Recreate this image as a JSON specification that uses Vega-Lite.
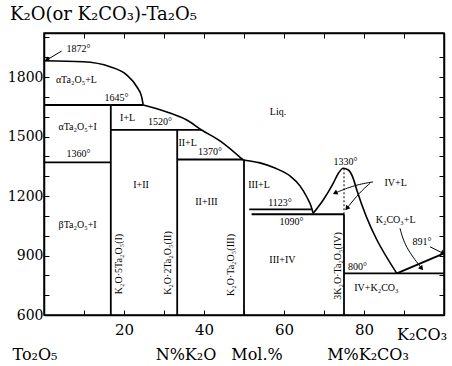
{
  "$schema": "https://vega.github.io/schema/vega-lite/v6.json",
  "width": 400,
  "height": 282,
  "autosize": {"type": "none"},
  "padding": {"left": 44, "top": 33, "right": 8, "bottom": 51},
  "background": "white",
  "config": {
    "view": {"stroke": "black", "strokeWidth": 1.5},
    "font": "DejaVu Serif",
    "axis": {"grid": false, "domainColor": "black", "domainWidth": 1.5, "tickColor": "black", "tickWidth": 1, "labelColor": "black", "labelFont": "DejaVu Serif", "title": null}
  },
  "datasets": {
    "segs": [
      {"x": 0, "y": 1659, "x2": 24.8, "y2": 1659},
      {"x": 16.7, "y": 1659, "x2": 16.7, "y2": 600},
      {"x": 0, "y": 1370, "x2": 16.7, "y2": 1370},
      {"x": 16.7, "y": 1533, "x2": 39.4, "y2": 1533},
      {"x": 33.3, "y": 1533, "x2": 33.3, "y2": 600},
      {"x": 33.3, "y": 1384, "x2": 49.8, "y2": 1384},
      {"x": 50, "y": 1384, "x2": 50, "y2": 600},
      {"x": 51.3, "y": 1133, "x2": 66.9, "y2": 1133},
      {"x": 51.9, "y": 1108, "x2": 75, "y2": 1108},
      {"x": 75, "y": 1108, "x2": 75, "y2": 600},
      {"x": 75, "y": 810, "x2": 100, "y2": 810},
      {"x": 88.2, "y": 810, "x2": 100, "y2": 911}
    ],
    "dotted": [
      {"x": 75, "y": 1108, "x2": 75, "y2": 1340}
    ],
    "curves": [
      {"c": "L1", "o": 1, "x": 0, "y": 1882},
      {"c": "L1", "o": 2, "x": 9.75, "y": 1877},
      {"c": "L1", "o": 3, "x": 16.5, "y": 1852},
      {"c": "L1", "o": 4, "x": 20.7, "y": 1810},
      {"c": "L1", "o": 5, "x": 23.2, "y": 1751},
      {"c": "L1", "o": 6, "x": 24.4, "y": 1701},
      {"c": "L1", "o": 7, "x": 24.8, "y": 1659},
      {"c": "L2", "o": 1, "x": 24.8, "y": 1659},
      {"c": "L2", "o": 2, "x": 30.7, "y": 1624},
      {"c": "L2", "o": 3, "x": 35.7, "y": 1583},
      {"c": "L2", "o": 4, "x": 39.4, "y": 1533},
      {"c": "L2", "o": 5, "x": 44, "y": 1478},
      {"c": "L2", "o": 6, "x": 49.75, "y": 1382},
      {"c": "L3", "o": 1, "x": 49.75, "y": 1382},
      {"c": "L3", "o": 2, "x": 54, "y": 1367},
      {"c": "L3", "o": 3, "x": 57.75, "y": 1341},
      {"c": "L3", "o": 4, "x": 61.5, "y": 1301},
      {"c": "L3", "o": 5, "x": 64, "y": 1251},
      {"c": "L3", "o": 6, "x": 65.7, "y": 1195},
      {"c": "L3", "o": 7, "x": 66.75, "y": 1150},
      {"c": "L3", "o": 8, "x": 67.3, "y": 1113},
      {"c": "D4", "o": 1, "x": 67.3, "y": 1113},
      {"c": "D4", "o": 2, "x": 69.8, "y": 1180},
      {"c": "D4", "o": 3, "x": 72.3, "y": 1264},
      {"c": "D4", "o": 4, "x": 73.6, "y": 1315},
      {"c": "D4", "o": 5, "x": 74.8, "y": 1340},
      {"c": "D4", "o": 6, "x": 76.1, "y": 1331},
      {"c": "D4", "o": 7, "x": 77.3, "y": 1289},
      {"c": "D4", "o": 8, "x": 78.2, "y": 1230},
      {"c": "D4", "o": 9, "x": 88.2, "y": 810}
    ],
    "arrows": [
      {"a": "A1", "o": 1, "x": 4.4, "y": 1931},
      {"a": "A1", "o": 2, "x": 0.7, "y": 1886},
      {"a": "A2", "o": 1, "x": 82.25, "y": 1271},
      {"a": "A2", "o": 2, "x": 77.75, "y": 1256},
      {"a": "A2", "o": 3, "x": 72.75, "y": 1215},
      {"a": "A3", "o": 1, "x": 81.5, "y": 1264},
      {"a": "A3", "o": 2, "x": 79, "y": 1220},
      {"a": "A3", "o": 3, "x": 75.7, "y": 1138},
      {"a": "A4", "o": 1, "x": 89, "y": 1037},
      {"a": "A4", "o": 2, "x": 90.25, "y": 944},
      {"a": "A4", "o": 3, "x": 94.4, "y": 835},
      {"a": "A5", "o": 1, "x": 96.5, "y": 944},
      {"a": "A5", "o": 2, "x": 99.8, "y": 911}
    ],
    "heads": [
      {"x": 0.7, "y": 1886, "ang": 149},
      {"x": 72.75, "y": 1215, "ang": 156},
      {"x": 75.7, "y": 1138, "ang": 129},
      {"x": 94.4, "y": 835, "ang": 52},
      {"x": 99.8, "y": 911, "ang": 26}
    ],
    "labels": [
      {"t": "1872°", "x": 8.6, "y": 1941},
      {"t": "αTa₂O₅+L", "x": 8.1, "y": 1785},
      {"t": "1645°", "x": 18.1, "y": 1694},
      {"t": "αTa₂O₅+I", "x": 8.4, "y": 1548},
      {"t": "1360°", "x": 8.6, "y": 1412},
      {"t": "I+L", "x": 20.9, "y": 1593},
      {"t": "1520°", "x": 29, "y": 1573},
      {"t": "II+L", "x": 35.9, "y": 1467},
      {"t": "1370°", "x": 41.5, "y": 1422},
      {"t": "I+II", "x": 24.25, "y": 1256},
      {"t": "II+III", "x": 40.6, "y": 1170},
      {"t": "βTa₂O₅+I", "x": 8.4, "y": 1054},
      {"t": "Liq.", "x": 58.5, "y": 1624},
      {"t": "III+L", "x": 53.75, "y": 1256},
      {"t": "1123°", "x": 59, "y": 1165},
      {"t": "1090°", "x": 61.9, "y": 1069},
      {"t": "III+IV", "x": 59.6, "y": 877},
      {"t": "1330°", "x": 75.4, "y": 1372},
      {"t": "IV+L", "x": 87.9, "y": 1266},
      {"t": "K₂CO₃+L", "x": 87.9, "y": 1079},
      {"t": "891°", "x": 94.5, "y": 968},
      {"t": "800°", "x": 78.4, "y": 842},
      {"t": "IV+K₂CO₃", "x": 83.1, "y": 736}
    ],
    "vlabels": [
      {"t": "K₂O·5Ta₂O₅(I)", "x": 18.75, "y": 857},
      {"t": "K₂O·2Ta₂O₅(II)", "x": 31, "y": 862},
      {"t": "K₂O·Ta₂O₅(III)", "x": 46.75, "y": 852},
      {"t": "3K₂O·Ta₂O₅(IV)", "x": 73.5, "y": 847}
    ],
    "bottom": [
      {"t": "To₂O₅", "x": -2.25, "y": 398},
      {"t": "N%K₂O", "x": 35.5, "y": 398},
      {"t": "Mol.%", "x": 53.25, "y": 398},
      {"t": "M%K₂CO₃", "x": 81, "y": 398},
      {"t": "K₂CO₃", "x": 94.5, "y": 500}
    ],
    "title": [
      {"t": "K₂O(or K₂CO₃)-Ta₂O₅", "x": -8.5, "y": 2086}
    ]
  },
  "resolve": {"axis": {"x": "independent", "y": "independent"}},
  "layer": [
    {
      "data": {"name": "segs"},
      "mark": {"type": "rule", "color": "black", "strokeWidth": 1.8},
      "encoding": {
        "x": {"field": "x", "type": "quantitative", "scale": {"domain": [0, 100], "nice": false, "zero": false},
              "axis": {"orient": "bottom", "values": [0,10,20,30,40,50,60,70,80,90,100], "labelExpr": "(datum.value==20||datum.value==40||datum.value==60||datum.value==80) ? datum.label : ''", "tickSize": -5, "labelPadding": 12, "labelFontSize": 15, "labelFont": "DejaVu Serif"}},
        "y": {"field": "y", "type": "quantitative", "scale": {"domain": [600, 2022], "nice": false, "zero": false},
              "axis": {"orient": "left", "values": [600,700,800,900,1000,1100,1200,1300,1400,1500,1600,1700,1800,1900,2000], "labelExpr": "(datum.value % 300 == 0) ? datum.value + '' : ''", "tickSize": -5, "labelPadding": 6, "labelFontSize": 14, "labelFont": "DejaVu Serif"}},
        "x2": {"field": "x2"},
        "y2": {"field": "y2"}
      }
    },
    {
      "data": {"name": "dotted"},
      "mark": {"type": "rule", "color": "black", "strokeWidth": 1, "strokeDash": [2, 2]},
      "encoding": {
        "x": {"field": "x", "type": "quantitative", "scale": {"domain": [0, 100], "nice": false, "zero": false},
              "axis": {"orient": "top", "values": [10,20,30,40,50,60,70,80,90], "labels": false, "tickSize": -5}},
        "y": {"field": "y", "type": "quantitative", "scale": {"domain": [600, 2022], "nice": false, "zero": false},
              "axis": {"orient": "right", "values": [700,800,900,1000,1100,1200,1300,1400,1500,1600,1700,1800,1900], "labels": false, "tickSize": -5}},
        "x2": {"field": "x2"},
        "y2": {"field": "y2"}
      }
    },
    {
      "data": {"name": "curves"},
      "mark": {"type": "line", "color": "black", "strokeWidth": 1.6, "interpolate": "monotone"},
      "encoding": {
        "x": {"field": "x", "type": "quantitative", "scale": {"domain": [0, 100], "nice": false, "zero": false}, "axis": null},
        "y": {"field": "y", "type": "quantitative", "scale": {"domain": [600, 2022], "nice": false, "zero": false}, "axis": null},
        "detail": {"field": "c"},
        "order": {"field": "o", "type": "quantitative"}
      }
    },
    {
      "data": {"name": "arrows"},
      "mark": {"type": "line", "color": "black", "strokeWidth": 1, "interpolate": "basis"},
      "encoding": {
        "x": {"field": "x", "type": "quantitative", "scale": {"domain": [0, 100], "nice": false, "zero": false}, "axis": null},
        "y": {"field": "y", "type": "quantitative", "scale": {"domain": [600, 2022], "nice": false, "zero": false}, "axis": null},
        "detail": {"field": "a"},
        "order": {"field": "o", "type": "quantitative"}
      }
    },
    {
      "data": {"name": "heads"},
      "mark": {"type": "point", "shape": "triangle-right", "filled": true, "color": "black", "size": 30, "opacity": 1},
      "encoding": {
        "x": {"field": "x", "type": "quantitative", "scale": {"domain": [0, 100], "nice": false, "zero": false}, "axis": null},
        "y": {"field": "y", "type": "quantitative", "scale": {"domain": [600, 2022], "nice": false, "zero": false}, "axis": null},
        "angle": {"field": "ang", "type": "quantitative", "scale": null}
      }
    },
    {
      "data": {"name": "labels"},
      "mark": {"type": "text", "font": "Liberation Serif", "fontSize": 10, "color": "black", "align": "center", "baseline": "middle"},
      "encoding": {
        "x": {"field": "x", "type": "quantitative", "scale": {"domain": [0, 100], "nice": false, "zero": false}, "axis": null},
        "y": {"field": "y", "type": "quantitative", "scale": {"domain": [600, 2022], "nice": false, "zero": false}, "axis": null},
        "text": {"field": "t"}
      }
    },
    {
      "data": {"name": "vlabels"},
      "mark": {"type": "text", "font": "Liberation Serif", "fontSize": 10, "color": "black", "align": "center", "baseline": "middle", "angle": 270},
      "encoding": {
        "x": {"field": "x", "type": "quantitative", "scale": {"domain": [0, 100], "nice": false, "zero": false}, "axis": null},
        "y": {"field": "y", "type": "quantitative", "scale": {"domain": [600, 2022], "nice": false, "zero": false}, "axis": null},
        "text": {"field": "t"}
      }
    },
    {
      "data": {"name": "bottom"},
      "mark": {"type": "text", "font": "DejaVu Serif", "fontSize": 16, "color": "black", "align": "center", "baseline": "middle"},
      "encoding": {
        "x": {"field": "x", "type": "quantitative", "scale": {"domain": [0, 100], "nice": false, "zero": false}, "axis": null},
        "y": {"field": "y", "type": "quantitative", "scale": {"domain": [600, 2022], "nice": false, "zero": false}, "axis": null},
        "text": {"field": "t"}
      }
    },
    {
      "data": {"name": "title"},
      "mark": {"type": "text", "font": "DejaVu Serif", "fontSize": 18, "color": "black", "align": "left", "baseline": "alphabetic"},
      "encoding": {
        "x": {"field": "x", "type": "quantitative", "scale": {"domain": [0, 100], "nice": false, "zero": false}, "axis": null},
        "y": {"field": "y", "type": "quantitative", "scale": {"domain": [600, 2022], "nice": false, "zero": false}, "axis": null},
        "text": {"field": "t"}
      }
    }
  ]
}
